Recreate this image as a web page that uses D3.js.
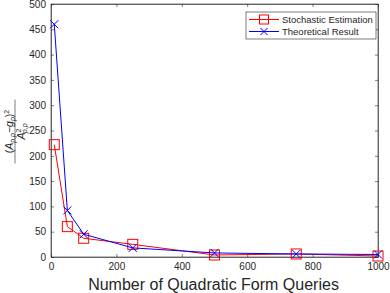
<!DOCTYPE html>
<html>
<head>
<meta charset="utf-8">
<script src="https://cdn.jsdelivr.net/npm/d3@7"></script>
<style>
  body { margin: 0; background: #fff; }
  text { font-family: "Liberation Sans", Arial, sans-serif; }
</style>
</head>
<body>
<div id="chart"></div>
<script>
// data
var queries = [10, 50, 100, 250, 500, 750, 1000];
var stochastic = [222, 60, 37, 25, 4, 6, 2];
var theoretical = [460, 92, 45, 18, 8, 6, 5];
var xTicks = [0, 200, 400, 600, 800, 1000];
var yTicks = [0, 50, 100, 150, 200, 250, 300, 350, 400, 450, 500];

var margin = {top: 4, right: 12, bottom: 36, left: 51},
    width = 390 - margin.left - margin.right,
    height = 293 - margin.top - margin.bottom;

var svg = d3.select("#chart").append("svg")
    .attr("width", 390)
    .attr("height", 293);

var g = svg.append("g")
    .attr("transform", "translate(" + margin.left + "," + margin.top + ")");

var x = d3.scaleLinear().domain([0, 1000]).range([0, width]);
var y = d3.scaleLinear().domain([0, 500]).range([height, 0]);

var axisColor = "#262626";

// box
g.append("rect")
    .attr("width", width).attr("height", height)
    .attr("fill", "none").attr("stroke", axisColor).attr("stroke-width", 0.6);

// axes, ticks inward
var xAxis = g.append("g")
    .attr("transform", "translate(0," + height + ")")
    .call(d3.axisBottom(x).tickValues(xTicks).tickFormat(d3.format("d")).tickSizeInner(-3).tickSizeOuter(0).tickPadding(6));
var xTop = g.append("g")
    .call(d3.axisTop(x).tickValues(xTicks).tickSizeInner(-3).tickSizeOuter(0).tickFormat(""));
var yAxis = g.append("g")
    .call(d3.axisLeft(y).tickValues(yTicks).tickSizeInner(-3).tickSizeOuter(0).tickPadding(5));
var yRight = g.append("g")
    .attr("transform", "translate(" + width + ",0)")
    .call(d3.axisRight(y).tickValues(yTicks).tickSizeInner(-3).tickSizeOuter(0).tickFormat(""));

[xAxis, xTop, yAxis, yRight].forEach(function (a) {
    a.select(".domain").attr("stroke", axisColor).attr("stroke-width", 0.6);
    a.selectAll(".tick line").attr("stroke", axisColor).attr("stroke-width", 0.6);
    a.selectAll("text").attr("fill", axisColor).style("font-size", "10px");
});

var line = d3.line()
    .x(function (d, i) { return x(queries[i]); })
    .y(function (d) { return y(d); });

// stochastic (red, squares)
g.append("path").datum(stochastic)
    .attr("d", line).attr("fill", "none").attr("stroke", "#ff0000").attr("stroke-width", 1);
g.selectAll(".sq").data(stochastic).enter().append("rect")
    .attr("x", function (d, i) { return x(queries[i]) - 5; })
    .attr("y", function (d) { return y(d) - 5; })
    .attr("width", 10).attr("height", 10)
    .attr("fill", "none").attr("stroke", "#ff0000").attr("stroke-width", 1);

// theoretical (blue, crosses)
g.append("path").datum(theoretical)
    .attr("d", line).attr("fill", "none").attr("stroke", "#0000ff").attr("stroke-width", 1);
g.selectAll(".cr").data(theoretical).enter().append("path")
    .attr("transform", function (d, i) { return "translate(" + x(queries[i]) + "," + y(d) + ")"; })
    .attr("d", "M-4,-4L4,4M-4,4L4,-4")
    .attr("stroke", "#0000ff").attr("stroke-width", 1);

// legend
var lg = svg.append("g").attr("transform", "translate(246,12)");
lg.append("rect").attr("width", 130).attr("height", 27)
    .attr("fill", "#fff").attr("stroke", axisColor).attr("stroke-width", 0.6);
var items = [
    {name: "Stochastic Estimation", color: "#ff0000", mark: "sq"},
    {name: "Theoretical Result", color: "#0000ff", mark: "cr"}
];
items.forEach(function (it, i) {
    var yy = 7.5 + i * 12;
    lg.append("line").attr("x1", 3).attr("x2", 33).attr("y1", yy).attr("y2", yy)
        .attr("stroke", it.color).attr("stroke-width", 1);
    if (it.mark === "sq") {
        lg.append("rect").attr("x", 13.5).attr("y", yy - 4.5).attr("width", 9).attr("height", 9)
            .attr("fill", "none").attr("stroke", it.color);
    } else {
        lg.append("path").attr("transform", "translate(18," + yy + ")")
            .attr("d", "M-3.5,-3.5L3.5,3.5M-3.5,3.5L3.5,-3.5").attr("stroke", it.color);
    }
    lg.append("text").attr("x", 36).attr("y", yy + 3.3)
        .style("font-size", "9.5px").attr("fill", axisColor).text(it.name);
});

// x label
svg.append("text")
    .attr("x", margin.left + width / 2 - 1).attr("y", 290)
    .attr("text-anchor", "middle").attr("fill", axisColor)
    .style("font-size", "16px")
    .text("Number of Quadratic Form Queries");

// y label: fraction, rotated
var yl = svg.append("g")
    .attr("transform", "translate(15," + (margin.top + height / 2 + 1) + ") rotate(-90)")
    .style("font-family", "'DejaVu Serif', serif").style("font-style", "italic")
    .attr("fill", axisColor);
var num = yl.append("text").attr("x", 0).attr("y", -2.5).attr("text-anchor", "middle").style("font-size", "10.5px");
num.append("tspan").style("font-style", "normal").text("(");
num.append("tspan").text("A");
num.append("tspan").attr("dy", 2.5).style("font-size", "7px").text("p,p");
num.append("tspan").attr("dy", -2.5).style("font-style", "normal").text("\u2212");
num.append("tspan").text("g");
num.append("tspan").attr("dy", 2.5).style("font-size", "7px").text("p");
num.append("tspan").attr("dy", -2.5).style("font-style", "normal").text(")");
num.append("tspan").attr("dy", -3.5).style("font-size", "7px").style("font-style", "normal").text("2");
yl.append("line").attr("x1", -32).attr("x2", 32).attr("y1", 0).attr("y2", 0)
    .attr("stroke", axisColor).attr("stroke-width", 0.6);
var den = yl.append("text").attr("x", 0).attr("y", 9.5).attr("text-anchor", "middle").style("font-size", "10.5px");
den.append("tspan").text("A");
den.append("tspan").attr("dy", -3.5).style("font-size", "7px").style("font-style", "normal").text("2");
den.append("tspan").attr("dx", -4.5).attr("dy", 6).style("font-size", "7px").text("p,p");
</script>
</body>
</html>
